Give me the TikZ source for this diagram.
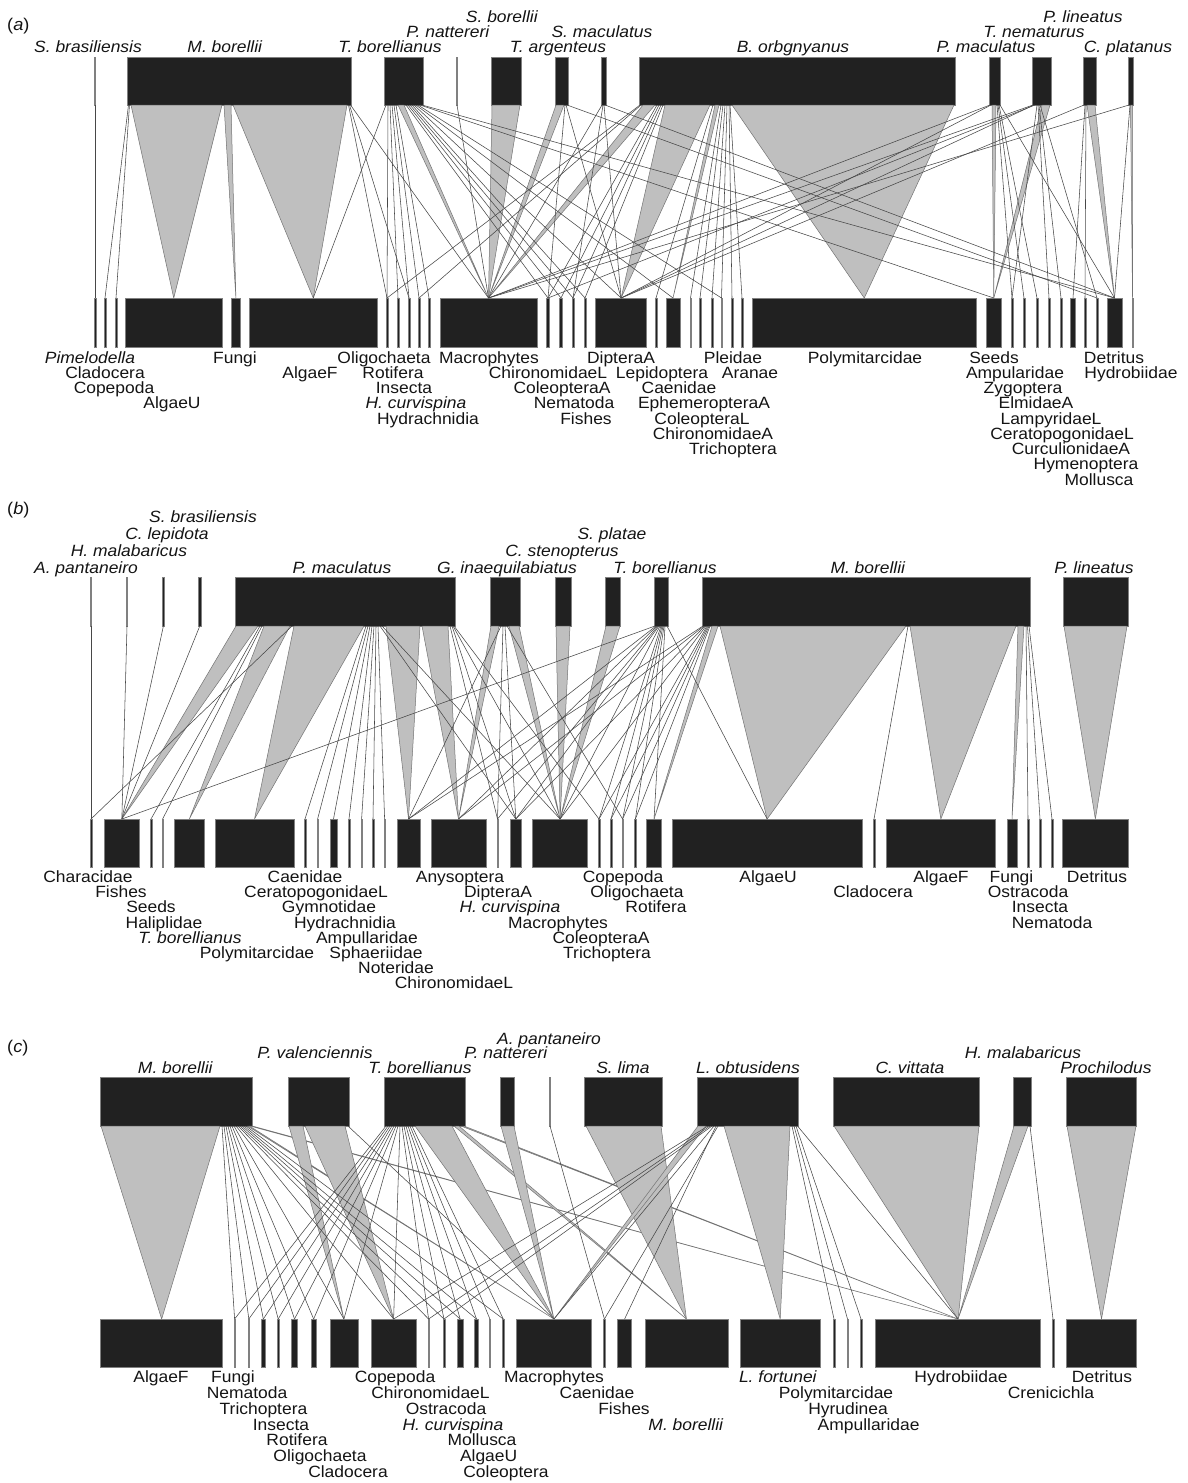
\documentclass[tikz,border=0pt]{standalone}
\usepackage{fontspec}
\setmainfont{Liberation Sans}[FakeStretch=1.07]
\tikzset{
  bx/.style={fill=black!87, draw=black!50, line width=0.5pt, inner sep=0pt, outer sep=0pt},
  wedgefill/.style={fill=black!25, draw=black!55, line width=0.5pt, line join=round},
  lnk/.style={draw=black!72, line width=0.55pt},
  lab/.style={font=\fontsize{16.3}{16}\selectfont, inner sep=0pt, text=black!92, anchor=base},
}
\newcounter{lbn}
\newcommand\Bx[5]{\node[bx, anchor=north west, minimum width={#3pt-#2pt}, minimum height={#5pt-#4pt}] (#1) at (#2,#4) {};}
\newcommand\Tn[5]{\node[bx, anchor=north, minimum width=#3pt, minimum height={#5pt-#4pt}] (#1) at (#2,#4) {};}
\newcommand\Wdg[4]{\filldraw[wedgefill] (#2,0|-#1.south) -- (#3,0|-#1.south) -- (#4.north) -- cycle;}
\newcommand\Lnk[3]{\draw[lnk] (#2,0|-#1.south) -- (#3.north);}
\newcommand\Lc[2]{\draw[lnk] (#1.south) -- (#2.north);}
\newcommand\LAt[3]{\stepcounter{lbn}\node[lab] (lb\thelbn) at (#1,{52-15*#2}) {\textit{#3}};}
\newcommand\LAb[3]{\stepcounter{lbn}\node[lab] (lb\thelbn) at (#1,{363+15.25*#2}) {#3};}
\newcommand\LBt[3]{\stepcounter{lbn}\node[lab] (lb\thelbn) at (#1,{573-17*#2}) {\textit{#3}};}
\newcommand\LBb[3]{\stepcounter{lbn}\node[lab] (lb\thelbn) at (#1,{882.7+15.1*#2}) {#3};}
\newcommand\LCt[3]{\stepcounter{lbn}\node[lab] (lb\thelbn) at (#1,{1073-14.5*#2}) {\textit{#3}};}
\newcommand\LCb[3]{\stepcounter{lbn}\node[lab] (lb\thelbn) at (#1,{1382.7+15.77*#2}) {#3};}
\begin{document}
\begin{tikzpicture}[x=1pt,y=-1pt]
\fill[white] (0,0) rectangle (1188,1483);
\useasboundingbox (0,0) rectangle (1188,1483);

% ================= PANEL A =================
\node[lab, anchor=base west, font=\fontsize{17}{17}\selectfont] (pa) at (7,30) {(\textit{a})};
% top
\Tn{aSbra}{95}{1.2}{57}{105}
\Bx{aMbor}{127.4}{351.3}{57}{105}
\Bx{aTbor}{384.6}{423.7}{57}{105}
\Tn{aPnat}{457}{1.4}{57}{105}
\Bx{aSbor}{491}{521}{57}{105}
\Bx{aTarg}{555}{568}{57}{105}
\Bx{aSmac}{601}{606}{57}{105}
\Bx{aBorb}{639}{955}{57}{105}
\Bx{aPmac}{989}{1000}{57}{105}
\Bx{aTnem}{1032}{1051}{57}{105}
\Bx{aPlin}{1083}{1096}{57}{105}
\Bx{aCpla}{1128}{1133}{57}{105}
% bottom
\Tn{aPim}{95}{1.5}{298}{347}
\Tn{aCla}{105}{1.5}{298}{347}
\Tn{aCop}{116}{1.5}{298}{347}
\Bx{aAlgU}{125.5}{222}{298}{347}
\Bx{aFun}{231.5}{240.3}{298}{347}
\Bx{aAlgF}{249.5}{377}{298}{347}
\Tn{aOli}{387}{1.5}{298}{347}
\Tn{aRot}{398}{1.5}{298}{347}
\Tn{aIns}{409}{1.5}{298}{347}
\Tn{aHcu}{419}{1.5}{298}{347}
\Tn{aHyd}{429}{1.5}{298}{347}
\Bx{aMac}{440}{537}{298}{347}
\Tn{aChiL}{548}{3}{298}{347}
\Tn{aColA}{561}{3}{298}{347}
\Tn{aNem}{573}{2.5}{298}{347}
\Tn{aFis}{585}{2.5}{298}{347}
\Bx{aDipA}{595.5}{646.7}{298}{347}
\Tn{aLep}{656}{2}{298}{347}
\Bx{aCae}{666}{680}{298}{347}
\Tn{aEph}{690.5}{1.5}{298}{347}
\Tn{aColL}{700}{1.5}{298}{347}
\Tn{aChiA}{712}{1.5}{298}{347}
\Tn{aTri}{721.5}{1.5}{298}{347}
\Tn{aPle}{732}{1.5}{298}{347}
\Tn{aAra}{742}{1.5}{298}{347}
\Bx{aPol}{752.5}{976}{298}{347}
\Bx{aSee}{986}{1001.5}{298}{347}
\Tn{aAmp}{1012}{1.5}{298}{347}
\Tn{aZyg}{1024}{1.5}{298}{347}
\Tn{aElm}{1037}{1.5}{298}{347}
\Tn{aLam}{1049}{1.5}{298}{347}
\Tn{aCer}{1061}{1.5}{298}{347}
\Bx{aCur}{1070.5}{1075.5}{298}{347}
\Tn{aHym}{1085}{1.5}{298}{347}
\Tn{aMol}{1097}{1.5}{298}{347}
\Bx{aDet}{1107}{1122}{298}{347}
\Tn{aHydro}{1132.5}{1.5}{298}{347}
% wedges
\Wdg{aMbor}{131}{222}{aAlgU}
\Wdg{aMbor}{224}{231}{aFun}
\Wdg{aMbor}{233}{347}{aAlgF}
\Wdg{aTbor}{398}{404}{aMac}
\Wdg{aSbor}{492}{520}{aMac}
\Wdg{aTarg}{556}{564}{aMac}
\Wdg{aBorb}{643}{655}{aMac}
\Wdg{aBorb}{665}{710}{aDipA}
\Wdg{aBorb}{715}{719}{aCae}
\Wdg{aBorb}{732}{954}{aPol}
\Wdg{aPmac}{992}{996}{aSee}
\Wdg{aTnem}{1042}{1050}{aSee}
\Wdg{aPlin}{1087}{1095}{aDet}
\Wdg{aCpla}{1130.5}{1132.5}{aHydro}
% lines
\Lc{aSbra}{aPim}
\Lnk{aMbor}{128.5}{aCla}
\Lnk{aMbor}{129.5}{aCop}
\Lnk{aMbor}{348.5}{aOli}
\Lnk{aMbor}{349.5}{aIns}
\Lnk{aMbor}{350.5}{aMac}
\Lnk{aTbor}{386}{aAlgF}
\Lnk{aTbor}{388}{aOli}
\Lnk{aTbor}{390}{aRot}
\Lnk{aTbor}{392}{aIns}
\Lnk{aTbor}{394}{aHcu}
\Lnk{aTbor}{396}{aHyd}
\Lnk{aTbor}{406}{aChiL}
\Lnk{aTbor}{408}{aColA}
\Lnk{aTbor}{410}{aNem}
\Lnk{aTbor}{412}{aFis}
\Lnk{aTbor}{414}{aDipA}
\Lnk{aTbor}{416}{aCae}
\Lnk{aTbor}{418}{aTri}
\Lnk{aTbor}{420}{aSee}
\Lnk{aTbor}{422}{aDet}
\Lc{aPnat}{aMac}
\Lnk{aTarg}{565}{aChiL}
\Lnk{aTarg}{566}{aDipA}
\Lnk{aTarg}{567}{aMol}
\Lnk{aSmac}{602}{aMac}
\Lnk{aSmac}{603}{aNem}
\Lnk{aSmac}{604}{aDipA}
\Lnk{aSmac}{605}{aDet}
\Lnk{aBorb}{640}{aOli}
\Lnk{aBorb}{641}{aHcu}
\Lnk{aBorb}{657}{aChiL}
\Lnk{aBorb}{659}{aColA}
\Lnk{aBorb}{661}{aNem}
\Lnk{aBorb}{663}{aFis}
\Lnk{aBorb}{713}{aLep}
\Lnk{aBorb}{721}{aEph}
\Lnk{aBorb}{723}{aColL}
\Lnk{aBorb}{725}{aChiA}
\Lnk{aBorb}{727}{aTri}
\Lnk{aBorb}{729}{aPle}
\Lnk{aBorb}{730}{aAra}
\Lnk{aPmac}{990}{aMac}
\Lnk{aPmac}{991}{aDipA}
\Lnk{aPmac}{997}{aAmp}
\Lnk{aPmac}{998}{aZyg}
\Lnk{aPmac}{999}{aElm}
\Lnk{aPmac}{1000}{aDet}
\Lnk{aTnem}{1033}{aMac}
\Lnk{aTnem}{1034}{aDipA}
\Lnk{aTnem}{1035}{aChiL}
\Lnk{aTnem}{1037}{aAmp}
\Lnk{aTnem}{1038}{aLam}
\Lnk{aTnem}{1039}{aCer}
\Lnk{aTnem}{1040}{aMol}
\Lnk{aPlin}{1084}{aDipA}
\Lnk{aPlin}{1085}{aCur}
\Lnk{aPlin}{1086}{aHym}
\Lnk{aCpla}{1129}{aMac}
\Lnk{aCpla}{1130}{aDet}
% labels
\LAt{88}{0}{S. brasiliensis}
\LAt{225}{0}{M. borellii}
\LAt{390}{0}{T. borellianus}
\LAt{448}{1}{P. nattereri}
\LAt{502}{2}{S. borellii}
\LAt{558}{0}{T. argenteus}
\LAt{602}{1}{S. maculatus}
\LAt{793}{0}{B. orbgnyanus}
\LAt{986}{0}{P. maculatus}
\LAt{1034}{1}{T. nematurus}
\LAt{1083}{2}{P. lineatus}
\LAt{1128}{0}{C. platanus}
\LAb{90}{0}{\textit{Pimelodella}}
\LAb{105}{1}{Cladocera}
\LAb{114}{2}{Copepoda}
\LAb{172}{3}{AlgaeU}
\LAb{235}{0}{Fungi}
\LAb{310}{1}{AlgaeF}
\LAb{384}{0}{Oligochaeta}
\LAb{393}{1}{Rotifera}
\LAb{404}{2}{Insecta}
\LAb{416}{3}{\textit{H. curvispina}}
\LAb{428}{4}{Hydrachnidia}
\LAb{489}{0}{Macrophytes}
\LAb{548}{1}{ChironomidaeL}
\LAb{562}{2}{ColeopteraA}
\LAb{574}{3}{Nematoda}
\LAb{586}{4}{Fishes}
\LAb{621}{0}{DipteraA}
\LAb{662}{1}{Lepidoptera}
\LAb{679}{2}{Caenidae}
\LAb{704}{3}{EphemeropteraA}
\LAb{702}{4}{ColeopteraL}
\LAb{713}{5}{ChironomidaeA}
\LAb{733}{6}{Trichoptera}
\LAb{733}{0}{Pleidae}
\LAb{750}{1}{Aranae}
\LAb{865}{0}{Polymitarcidae}
\LAb{994}{0}{Seeds}
\LAb{1015}{1}{Ampularidae}
\LAb{1023}{2}{Zygoptera}
\LAb{1036}{3}{ElmidaeA}
\LAb{1051}{4}{LampyridaeL}
\LAb{1062}{5}{CeratopogonidaeL}
\LAb{1071}{6}{CurculionidaeA}
\LAb{1086}{7}{Hymenoptera}
\LAb{1099}{8}{Mollusca}
\LAb{1114}{0}{Detritus}
\LAb{1131}{1}{Hydrobiidae}

% ================= PANEL B =================
\node[lab, anchor=base west, font=\fontsize{17}{17}\selectfont] (pb) at (7,514) {(\textit{b})};
% top
\Tn{bApan}{91}{1.2}{577}{626}
\Tn{bHmal}{127}{1.2}{577}{626}
\Tn{bClep}{163.4}{2.5}{577}{626}
\Tn{bSbra}{199.8}{2.2}{577}{626}
\Bx{bPmac}{235.4}{455.4}{577}{626}
\Bx{bGina}{490.6}{520.5}{577}{626}
\Bx{bCste}{555}{571}{577}{626}
\Bx{bSpla}{605}{620.7}{577}{626}
\Bx{bTbor}{654.4}{668}{577}{626}
\Bx{bMbor}{702.5}{1029.8}{577}{626}
\Bx{bPlin}{1063.5}{1128}{577}{626}
% bottom
\Tn{bChar}{91}{1.5}{819}{867}
\Bx{bFis}{104}{139.7}{819}{867}
\Tn{bSee}{151}{1.5}{819}{867}
\Tn{bHal}{162.6}{1.5}{819}{867}
\Bx{bTbo}{174}{204.7}{819}{867}
\Bx{bPol}{215}{294}{819}{867}
\Tn{bCae}{305}{1.5}{819}{867}
\Tn{bCer}{317.6}{1.5}{819}{867}
\Bx{bGym}{330}{337}{819}{867}
\Tn{bHydr}{349}{1.5}{819}{867}
\Tn{bAmp}{361.6}{1.5}{819}{867}
\Tn{bSph}{373}{2.5}{819}{867}
\Tn{bNot}{384.6}{1.5}{819}{867}
\Bx{bChiL}{397}{420}{819}{867}
\Bx{bAny}{431}{486}{819}{867}
\Tn{bDipA}{497.5}{1.5}{819}{867}
\Bx{bHcu}{510}{521.6}{819}{867}
\Bx{bMac}{532.7}{587.5}{819}{867}
\Tn{bColA}{599}{1.5}{819}{867}
\Tn{bTri}{611}{1.5}{819}{867}
\Tn{bCop}{622.6}{1.5}{819}{867}
\Tn{bOli}{635.4}{1.5}{819}{867}
\Bx{bRot}{646.7}{661.4}{819}{867}
\Bx{bAlgU}{672}{862.3}{819}{867}
\Tn{bCla}{874}{1.5}{819}{867}
\Bx{bAlgF}{886}{995.7}{819}{867}
\Bx{bFun}{1007}{1017}{819}{867}
\Tn{bOst}{1028}{1.5}{819}{867}
\Tn{bIns}{1040}{1.5}{819}{867}
\Tn{bNem}{1052}{1.5}{819}{867}
\Bx{bDet}{1062.7}{1128}{819}{867}
% wedges
\Wdg{bPmac}{236}{258}{bFis}
\Wdg{bPmac}{264}{290}{bTbo}
\Wdg{bPmac}{294}{364}{bPol}
\Wdg{bPmac}{386}{420}{bChiL}
\Wdg{bPmac}{422}{448}{bAny}
\Wdg{bGina}{491}{499}{bAny}
\Wdg{bGina}{509}{519}{bMac}
\Wdg{bCste}{556}{570}{bMac}
\Wdg{bSpla}{606}{620}{bMac}
\Wdg{bMbor}{712}{718}{bRot}
\Wdg{bMbor}{720}{906}{bAlgU}
\Wdg{bMbor}{910}{1016}{bAlgF}
\Wdg{bMbor}{1018}{1024}{bFun}
\Wdg{bPlin}{1064}{1127}{bDet}
% lines
\Lc{bApan}{bChar}
\Lc{bHmal}{bFis}
\Lc{bClep}{bFis}
\Lc{bSbra}{bFis}
\Lnk{bPmac}{260}{bSee}
\Lnk{bPmac}{262}{bHal}
\Lnk{bPmac}{292}{bChar}
\Lnk{bPmac}{366}{bCae}
\Lnk{bPmac}{368}{bCer}
\Lnk{bPmac}{370}{bGym}
\Lnk{bPmac}{372}{bHydr}
\Lnk{bPmac}{374}{bAmp}
\Lnk{bPmac}{376}{bSph}
\Lnk{bPmac}{378}{bNot}
\Lnk{bPmac}{380}{bHcu}
\Lnk{bPmac}{382}{bMac}
\Lnk{bPmac}{450}{bDipA}
\Lnk{bPmac}{452}{bHcu}
\Lnk{bPmac}{453}{bMac}
\Lnk{bPmac}{454}{bColA}
\Lnk{bGina}{501}{bChiL}
\Lnk{bGina}{503}{bDipA}
\Lnk{bGina}{505}{bHcu}
\Lnk{bGina}{507}{bCop}
\Lnk{bTbor}{655}{bFis}
\Lnk{bTbor}{656}{bChiL}
\Lnk{bTbor}{657}{bAny}
\Lnk{bTbor}{658}{bDipA}
\Lnk{bTbor}{659}{bHcu}
\Lnk{bTbor}{660}{bMac}
\Lnk{bTbor}{661}{bColA}
\Lnk{bTbor}{662}{bTri}
\Lnk{bTbor}{663}{bCop}
\Lnk{bTbor}{664}{bOli}
\Lnk{bTbor}{665}{bRot}
\Lnk{bTbor}{667}{bAlgU}
\Lnk{bMbor}{703}{bChiL}
\Lnk{bMbor}{704}{bAny}
\Lnk{bMbor}{705}{bHcu}
\Lnk{bMbor}{706}{bMac}
\Lnk{bMbor}{707}{bColA}
\Lnk{bMbor}{708}{bTri}
\Lnk{bMbor}{709}{bCop}
\Lnk{bMbor}{710}{bOli}
\Lnk{bMbor}{908}{bCla}
\Lnk{bMbor}{1026}{bOst}
\Lnk{bMbor}{1027.5}{bIns}
\Lnk{bMbor}{1029}{bNem}
% labels
\LBt{86}{0}{A. pantaneiro}
\LBt{129}{1}{H. malabaricus}
\LBt{167}{2}{C. lepidota}
\LBt{203}{3}{S. brasiliensis}
\LBt{342}{0}{P. maculatus}
\LBt{507}{0}{G. inaequilabiatus}
\LBt{562}{1}{C. stenopterus}
\LBt{612}{2}{S. platae}
\LBt{665}{0}{T. borellianus}
\LBt{868}{0}{M. borellii}
\LBt{1094}{0}{P. lineatus}
\LBb{88}{0}{Characidae}
\LBb{121}{1}{Fishes}
\LBb{151}{2}{Seeds}
\LBb{164}{3}{Haliplidae}
\LBb{190}{4}{\textit{T. borellianus}}
\LBb{257}{5}{Polymitarcidae}
\LBb{305}{0}{Caenidae}
\LBb{316}{1}{CeratopogonidaeL}
\LBb{329}{2}{Gymnotidae}
\LBb{345}{3}{Hydrachnidia}
\LBb{367}{4}{Ampullaridae}
\LBb{376}{5}{Sphaeriidae}
\LBb{396}{6}{Noteridae}
\LBb{454}{7}{ChironomidaeL}
\LBb{460}{0}{Anysoptera}
\LBb{498}{1}{DipteraA}
\LBb{510}{2}{\textit{H. curvispina}}
\LBb{558}{3}{Macrophytes}
\LBb{601}{4}{ColeopteraA}
\LBb{607}{5}{Trichoptera}
\LBb{623}{0}{Copepoda}
\LBb{637}{1}{Oligochaeta}
\LBb{656}{2}{Rotifera}
\LBb{768}{0}{AlgaeU}
\LBb{873}{1}{Cladocera}
\LBb{941}{0}{AlgaeF}
\LBb{1011.5}{0}{Fungi}
\LBb{1028}{1}{Ostracoda}
\LBb{1040}{2}{Insecta}
\LBb{1052}{3}{Nematoda}
\LBb{1097}{0}{Detritus}

% ================= PANEL C =================
\node[lab, anchor=base west, font=\fontsize{17}{17}\selectfont] (pc) at (7,1052) {(\textit{c})};
% top
\Bx{cMbor}{100.6}{252.6}{1077}{1126}
\Bx{cPval}{287.8}{349}{1077}{1126}
\Bx{cTbor}{384.6}{465}{1077}{1126}
\Bx{cPnat}{500.6}{514.7}{1077}{1126}
\Tn{cApan}{550}{1.2}{1077}{1126}
\Bx{cSlim}{584.7}{662.2}{1077}{1126}
\Bx{cLobt}{697}{798}{1077}{1126}
\Bx{cCvit}{833}{979.4}{1077}{1126}
\Bx{cHmal}{1013.5}{1031}{1077}{1126}
\Bx{cPro}{1066.6}{1136.4}{1077}{1126}
% bottom
\Bx{cAlgF}{100.6}{222.7}{1319}{1367}
\Tn{cFun}{234.6}{1.5}{1319}{1367}
\Tn{cNem}{248.8}{1.5}{1319}{1367}
\Bx{cTri}{261.4}{265.2}{1319}{1367}
\Tn{cIns}{278.2}{1.5}{1319}{1367}
\Bx{cRot}{291.6}{297.4}{1319}{1367}
\Bx{cOli}{310.8}{316.5}{1319}{1367}
\Bx{cCla}{330}{357.8}{1319}{1367}
\Bx{cCop}{371.2}{416}{1319}{1367}
\Tn{cChiL}{428.6}{1.5}{1319}{1367}
\Tn{cOst}{444}{1.5}{1319}{1367}
\Bx{cHcu}{457.3}{463}{1319}{1367}
\Bx{cMol}{474.6}{478.4}{1319}{1367}
\Tn{cAlgU}{489.9}{1.5}{1319}{1367}
\Tn{cCol}{503.3}{1.5}{1319}{1367}
\Bx{cMac}{516.6}{591.3}{1319}{1367}
\Tn{cCae}{604.4}{1.5}{1319}{1367}
\Bx{cFis}{617.6}{631.6}{1319}{1367}
\Bx{cMbo}{644.8}{728.1}{1319}{1367}
\Bx{cLfo}{740}{820.4}{1319}{1367}
\Tn{cPol}{834}{1.5}{1319}{1367}
\Tn{cHyr}{847.5}{1.5}{1319}{1367}
\Tn{cAmp}{861}{1.5}{1319}{1367}
\Bx{cHydro}{875.5}{1040.6}{1319}{1367}
\Tn{cCre}{1053}{1.5}{1319}{1367}
\Bx{cDet}{1066.6}{1136.4}{1319}{1367}
% wedges
\Wdg{cMbor}{101}{220}{cAlgF}
\Wdg{cMbor}{247.5}{249.5}{cMac}
\Wdg{cMbor}{250}{252.3}{cHydro}
\Wdg{cPval}{289}{303}{cCla}
\Wdg{cPval}{305}{345}{cCop}
\Wdg{cTbor}{415}{452}{cMac}
\Wdg{cTbor}{454}{459}{cMbo}
\Wdg{cTbor}{461}{464}{cHydro}
\Wdg{cPnat}{501}{514}{cMac}
\Wdg{cSlim}{586}{661}{cMbo}
\Wdg{cLobt}{698}{706}{cMac}
\Wdg{cLobt}{724}{790}{cLfo}
\Wdg{cCvit}{834}{979}{cHydro}
\Wdg{cHmal}{1014}{1028}{cHydro}
\Wdg{cPro}{1067}{1136}{cDet}
% lines
\Lnk{cMbor}{222}{cFun}
\Lnk{cMbor}{224}{cNem}
\Lnk{cMbor}{226}{cTri}
\Lnk{cMbor}{228}{cIns}
\Lnk{cMbor}{230}{cRot}
\Lnk{cMbor}{232}{cOli}
\Lnk{cMbor}{234}{cCla}
\Lnk{cMbor}{236}{cCop}
\Lnk{cMbor}{238}{cChiL}
\Lnk{cMbor}{240}{cOst}
\Lnk{cMbor}{242}{cHcu}
\Lnk{cMbor}{244}{cMol}
\Lnk{cMbor}{246}{cCol}
\Lnk{cPval}{348}{cMac}
\Lnk{cTbor}{386}{cFun}
\Lnk{cTbor}{388}{cNem}
\Lnk{cTbor}{390}{cTri}
\Lnk{cTbor}{392}{cIns}
\Lnk{cTbor}{394}{cRot}
\Lnk{cTbor}{396}{cOli}
\Lnk{cTbor}{398}{cCla}
\Lnk{cTbor}{400}{cCop}
\Lnk{cTbor}{402}{cChiL}
\Lnk{cTbor}{404}{cOst}
\Lnk{cTbor}{406}{cHcu}
\Lnk{cTbor}{408}{cMol}
\Lnk{cTbor}{410}{cAlgU}
\Lnk{cTbor}{412}{cCol}
\Lc{cApan}{cCae}
\Lnk{cLobt}{708}{cCop}
\Lnk{cLobt}{710}{cChiL}
\Lnk{cLobt}{712}{cOst}
\Lnk{cLobt}{714}{cMac}
\Lnk{cLobt}{716}{cFis}
\Lnk{cLobt}{718}{cCae}
\Lnk{cLobt}{792}{cPol}
\Lnk{cLobt}{794}{cHyr}
\Lnk{cLobt}{796}{cAmp}
\Lnk{cLobt}{797.5}{cHydro}
\Lnk{cHmal}{1030}{cCre}
% labels
\LCt{175.5}{0}{M. borellii}
\LCt{315}{1}{P. valenciennis}
\LCt{420}{0}{T. borellianus}
\LCt{506}{1}{P. nattereri}
\LCt{549}{2}{A. pantaneiro}
\LCt{623}{0}{S. lima}
\LCt{748}{0}{L. obtusidens}
\LCt{910}{0}{C. vittata}
\LCt{1023}{1}{H. malabaricus}
\LCt{1106}{0}{Prochilodus}
\LCb{161}{0}{AlgaeF}
\LCb{233}{0}{Fungi}
\LCb{247}{1}{Nematoda}
\LCb{263.5}{2}{Trichoptera}
\LCb{281}{3}{Insecta}
\LCb{297}{4}{Rotifera}
\LCb{320}{5}{Oligochaeta}
\LCb{348}{6}{Cladocera}
\LCb{395}{0}{Copepoda}
\LCb{430.5}{1}{ChironomidaeL}
\LCb{446}{2}{Ostracoda}
\LCb{453}{3}{\textit{H. curvispina}}
\LCb{482}{4}{Mollusca}
\LCb{488.6}{5}{AlgaeU}
\LCb{506}{6}{Coleoptera}
\LCb{554}{0}{Macrophytes}
\LCb{597}{1}{Caenidae}
\LCb{624}{2}{Fishes}
\LCb{686}{3}{\textit{M. borellii}}
\LCb{778}{0}{\textit{L. fortunei}}
\LCb{836}{1}{Polymitarcidae}
\LCb{848}{2}{Hyrudinea}
\LCb{868.6}{3}{Ampullaridae}
\LCb{961}{0}{Hydrobiidae}
\LCb{1051}{1}{Crenicichla}
\LCb{1102}{0}{Detritus}
\end{tikzpicture}
\end{document}
